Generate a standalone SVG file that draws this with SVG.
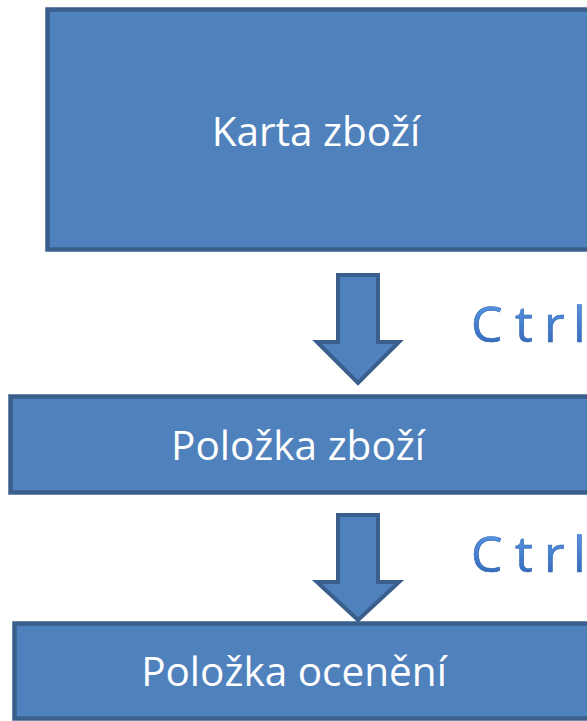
<svg xmlns="http://www.w3.org/2000/svg" width="587" height="721" viewBox="0 0 587 721">
<style>
.box{fill:#4F81BD;stroke:#3A5F8C;stroke-width:4.5}
.lbl{font-family:"Open Sans","Noto Sans",sans-serif;font-size:40.5px;fill:#ffffff;text-anchor:middle}
.arr{fill:#4F81BD;stroke:#3A5F8C;stroke-width:4;stroke-linejoin:miter}
.ctrl{font-family:"Open Sans","Noto Sans",sans-serif;font-size:50px;fill:url(#g);stroke:#2F66B5;stroke-width:0.6}
</style>
<defs>
<linearGradient id="g" x1="0" y1="0" x2="0" y2="1">
<stop offset="0" stop-color="#64A3F0"/>
<stop offset="1" stop-color="#2A5EAE"/>
</linearGradient>
</defs>
<g id="karta">
<rect class="box" x="47.5" y="9.5" width="560" height="240"/>
<text class="lbl" x="316" y="146">Karta zboží</text>
</g>
<g id="polozka-zbozi">
<rect class="box" x="10.5" y="396.5" width="600" height="96"/>
<text class="lbl" x="298" y="460">Položka zboží</text>
</g>
<g id="polozka-oceneni">
<rect class="box" x="14.5" y="623.5" width="600" height="95"/>
<text class="lbl" x="294" y="686">Položka ocenění</text>
</g>
<g id="connectors">
<polygon class="arr" points="338,275 378,275 378,342 399,342 358,383 317,342 338,342"/>
<polygon class="arr" points="338,515 378,515 378,582 399,582 358,620 317,582 338,582"/>
<text class="ctrl" y="342"><tspan x="471">C</tspan><tspan x="515">t</tspan><tspan x="544">r</tspan><tspan x="573">l</tspan></text>
<text class="ctrl" y="572"><tspan x="471">C</tspan><tspan x="515">t</tspan><tspan x="544">r</tspan><tspan x="573">l</tspan></text>
</g>
</svg>
